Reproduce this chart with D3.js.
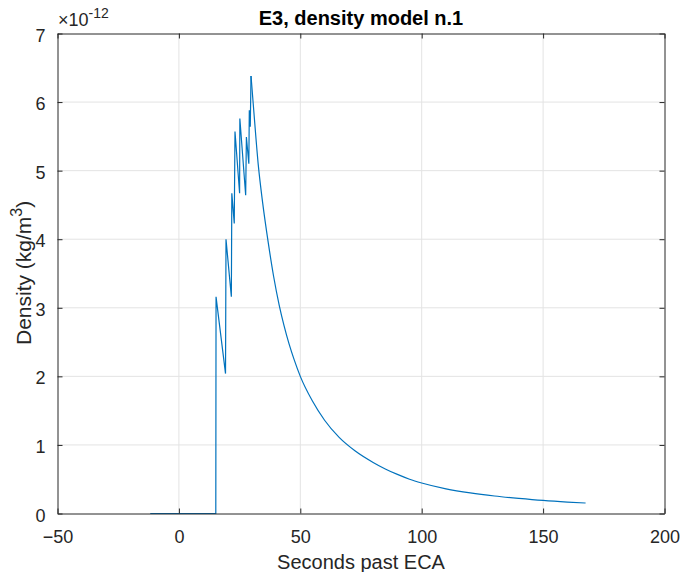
<!DOCTYPE html>
<html>
<head>
<meta charset="utf-8">
<script src="https://cdn.jsdelivr.net/npm/d3@7"></script>
<style>
  body { margin: 0; background: #fff; }
  svg { display: block; font-family: "Liberation Sans", Arial, sans-serif; }
</style>
</head>
<body>
<script>
// time axis (seconds past ECA) and density (units of 1e-12 kg/m^3)
const timeSec = [-11.8, 15.2, 15.3, 19.2, 19.4, 21.6, 21.8, 22.8, 23.1, 25.0, 25.1, 27.5, 27.8, 28.8, 29.0, 29.4, 29.7,
  31, 32.7, 34.5, 36.8, 39, 41.3, 43.3, 45.4, 47.5, 50, 55, 60, 66, 72.5, 80, 85, 90, 95, 100,
  110, 120, 130, 140, 150, 160, 167.5]
const density = [0, 0, 3.16, 2.04, 4.0, 3.16, 4.67, 4.23, 5.57, 4.67, 5.76, 4.64, 5.49, 5.1, 5.88, 5.64, 6.38,
  5.8, 5.08, 4.53, 3.95, 3.46, 3.04, 2.74, 2.47, 2.24, 2.0, 1.64, 1.36, 1.11, 0.915, 0.745, 0.65, 0.57, 0.5, 0.445,
  0.36, 0.3, 0.255, 0.22, 0.19, 0.167, 0.153]
const xTicks = [-50, 0, 50, 100, 150, 200]
const yTicks = [0, 1, 2, 3, 4, 5, 6, 7]
const peakIndex = 16

const width = 680
const height = 572
const margin = { top: 33.5, right: 15.5, bottom: 58.5, left: 57.5 }
const w = width - margin.left - margin.right
const h = height - margin.top - margin.bottom
const ink = "#262626"

const svg = d3.select("body").append("svg")
    .attr("width", width)
    .attr("height", height)

const g = svg.append("g")
    .attr("transform", "translate(" + margin.left + "," + margin.top + ")")

let x = d3.scaleLinear().domain([-50, 200]).range([0, w])
let y = d3.scaleLinear().domain([0, 7]).range([h, 0])

// grille
g.append("g").selectAll("line").data(xTicks.slice(1, -1)).enter().append("line")
    .attr("x1", d => x(d)).attr("x2", d => x(d))
    .attr("y1", 0).attr("y2", h)
    .attr("stroke", "#e3e3e3")
g.append("g").selectAll("line").data(yTicks.slice(1, -1)).enter().append("line")
    .attr("y1", d => y(d)).attr("y2", d => y(d))
    .attr("x1", 0).attr("x2", w)
    .attr("stroke", "#e3e3e3")

// courbe : montée en dents de scie (segments droits) puis décroissance lisse
const pts = timeSec.map((t, i) => [t, density[i]])
const lineLin = d3.line().x(d => x(d[0])).y(d => y(d[1]))
const lineSmooth = d3.line().x(d => x(d[0])).y(d => y(d[1])).curve(d3.curveMonotoneX)
g.append("path").attr("d", lineLin(pts.slice(0, peakIndex + 1)))
    .attr("fill", "none").attr("stroke", "#0072BD").attr("stroke-width", 1.2)
g.append("path").attr("d", lineSmooth(pts.slice(peakIndex)))
    .attr("fill", "none").attr("stroke", "#0072BD").attr("stroke-width", 1.2)

// axes (ticks vers l'intérieur, boîte complète)
const fmt = d3.format("d")
const axB = g.append("g").attr("transform", "translate(0," + h + ")")
    .call(d3.axisBottom(x).tickValues(xTicks).tickFormat(fmt).tickSizeInner(-5).tickSizeOuter(0).tickPadding(17))
const axT = g.append("g")
    .call(d3.axisTop(x).tickValues(xTicks).tickFormat("").tickSizeInner(-5).tickSizeOuter(0))
const axL = g.append("g")
    .call(d3.axisLeft(y).tickValues(yTicks).tickFormat(fmt).tickSizeInner(-5).tickSizeOuter(0).tickPadding(12))
const axR = g.append("g").attr("transform", "translate(" + w + ",0)")
    .call(d3.axisRight(y).tickValues(yTicks).tickFormat("").tickSizeInner(-5).tickSizeOuter(0))

for (const ax of [axB, axT, axL, axR]) {
    ax.select(".domain").attr("stroke", ink)
    ax.selectAll(".tick line").attr("stroke", ink)
    ax.selectAll("text").attr("fill", ink).attr("font-size", 18).attr("font-family", "Liberation Sans, Arial, sans-serif")
}
axB.selectAll("text").attr("dy", "0.71em")
axL.selectAll("text").attr("dy", "0.42em")

// exposant
const expo = svg.append("text")
    .attr("x", 58).attr("y", 26)
    .attr("fill", ink).attr("font-size", 18)
expo.append("tspan").text("\u00d710")
expo.append("tspan").attr("dy", -8).attr("font-size", 14).text("-12")

// titre
svg.append("text")
    .attr("x", margin.left + w / 2).attr("y", 25)
    .attr("text-anchor", "middle")
    .attr("font-weight", "bold").attr("font-size", 20)
    .attr("fill", "#000")
    .text("E3, density model n.1")

// axe x label
svg.append("text")
    .attr("x", margin.left + w / 2).attr("y", 569)
    .attr("text-anchor", "middle")
    .attr("font-size", 20).attr("fill", ink)
    .text("Seconds past ECA")

// axe y label
const yl = svg.append("text")
    .attr("transform", "translate(31,345) rotate(-90)")
    .attr("text-anchor", "start")
    .attr("font-size", 21).attr("fill", ink)
yl.append("tspan").text("Density (kg/m")
yl.append("tspan").attr("dy", -9).attr("font-size", 16).text("3")
yl.append("tspan").attr("dy", 9).text(")")
</script>
</body>
</html>
